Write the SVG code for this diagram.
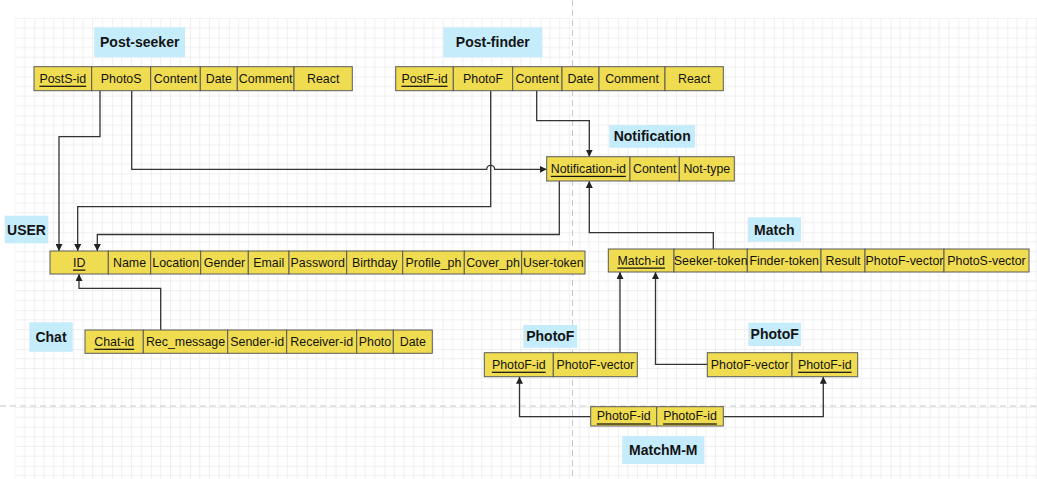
<svg xmlns="http://www.w3.org/2000/svg" width="1037" height="479" viewBox="0 0 1037 479">
<style>
.cell{fill:#f0dc50;stroke:#5a5a5a;stroke-width:1}
.lbl{fill:#c4ecfb}
.t{font-family:"Liberation Sans",Arial,sans-serif;font-size:12.4px;fill:#141414;text-anchor:middle;dominant-baseline:central}
.k{text-decoration:underline}
.h{font-family:"Liberation Sans",Arial,sans-serif;font-size:14px;font-weight:bold;fill:#141414;text-anchor:middle;dominant-baseline:central}
.c{fill:none;stroke:#333;stroke-width:1.3}
</style>
<defs>
<pattern id="grid" patternUnits="userSpaceOnUse" x="34.3" y="37.7" width="38.92" height="38.92">
<path d="M9.73 0V38.92M19.46 0V38.92M29.19 0V38.92M0 9.73H38.92M0 19.46H38.92M0 29.19H38.92" stroke="#efefef" stroke-width="1"/>
<path d="M0 0V38.92M0 0H38.92" stroke="#e1e1e1" stroke-width="1"/>
</pattern>
<marker id="a" viewBox="0 0 10 10" refX="10" refY="5" markerWidth="7" markerHeight="7" orient="auto" markerUnits="userSpaceOnUse">
<path d="M0 0L10 5L0 10Z" fill="#222"/>
</marker>
</defs>
<rect width="1037" height="479" fill="#fff"/>
<rect x="14.7" y="18" width="1023" height="462" fill="url(#grid)"/>
<path d="M572.5 0V479M0 406H1037" stroke="#c8c8c8" stroke-width="1" stroke-dasharray="6,4" fill="none"/>

<g id="connectors">
<path class="c" d="M100 90.7V136.7H59V251" marker-end="url(#a)"/>
<path class="c" d="M131.7 90.7V169.3H486.7A4 4 0 0 1 494.7 169.3H546.7" marker-end="url(#a)"/>
<path class="c" d="M490.7 90.7V206.7H77.7V251" marker-end="url(#a)"/>
<path class="c" d="M536.7 90.7V120.7H589.3V156.7" marker-end="url(#a)"/>
<path class="c" d="M559.3 181V234.5H97.3V251" marker-end="url(#a)"/>
<path class="c" d="M713.3 249V232.7H589.3V181" marker-end="url(#a)"/>
<path class="c" d="M160.7 330V288.3H79V274" marker-end="url(#a)"/>
<path class="c" d="M620 352.7V272" marker-end="url(#a)"/>
<path class="c" d="M707.3 364.3H655.5V272" marker-end="url(#a)"/>
<path class="c" d="M590.7 416.7H519.5V376.7" marker-end="url(#a)"/>
<path class="c" d="M723.3 416.7H823.3V376.7" marker-end="url(#a)"/>
</g>

<g id="post-seeker">
<rect class="lbl" x="94.3" y="27.3" width="90.7" height="30"/>
<text class="h" x="139.7" y="42.3">Post-seeker</text>
<rect class="cell" x="34" y="66.7" width="57.7" height="24"/>
<rect class="cell" x="91.7" y="66.7" width="59" height="24"/>
<rect class="cell" x="150.7" y="66.7" width="49.6" height="24"/>
<rect class="cell" x="200.3" y="66.7" width="37" height="24"/>
<rect class="cell" x="237.3" y="66.7" width="56.7" height="24"/>
<rect class="cell" x="294" y="66.7" width="58.3" height="24"/>
<text class="t k" x="62.8" y="78.7">PostS-id</text>
<text class="t" x="121.2" y="78.7">PhotoS</text>
<text class="t" x="175.5" y="78.7">Content</text>
<text class="t" x="218.8" y="78.7">Date</text>
<text class="t" x="265.7" y="78.7">Comment</text>
<text class="t" x="323.2" y="78.7">React</text>
</g>

<g id="post-finder">
<rect class="lbl" x="443.3" y="27.3" width="99" height="30"/>
<text class="h" x="492.8" y="42.3">Post-finder</text>
<rect class="cell" x="395.7" y="66.7" width="57.6" height="24"/>
<rect class="cell" x="453.3" y="66.7" width="59.4" height="24"/>
<rect class="cell" x="512.7" y="66.7" width="49.3" height="24"/>
<rect class="cell" x="562" y="66.7" width="37" height="24"/>
<rect class="cell" x="599" y="66.7" width="66" height="24"/>
<rect class="cell" x="665" y="66.7" width="58.3" height="24"/>
<text class="t k" x="424.5" y="78.7">PostF-id</text>
<text class="t" x="483" y="78.7">PhotoF</text>
<text class="t" x="537.3" y="78.7">Content</text>
<text class="t" x="580.5" y="78.7">Date</text>
<text class="t" x="632" y="78.7">Comment</text>
<text class="t" x="694.2" y="78.7">React</text>
</g>

<g id="notification">
<rect class="lbl" x="609.3" y="125" width="85.7" height="22.7"/>
<text class="h" x="652.2" y="136.3">Notification</text>
<rect class="cell" x="546.7" y="156.7" width="83.3" height="24.3"/>
<rect class="cell" x="630" y="156.7" width="49.3" height="24.3"/>
<rect class="cell" x="679.3" y="156.7" width="55" height="24.3"/>
<text class="t k" x="588.3" y="168.8">Notification-id</text>
<text class="t" x="654.7" y="168.8">Content</text>
<text class="t" x="706.8" y="168.8">Not-type</text>
</g>

<g id="user">
<rect class="lbl" x="4.7" y="215.7" width="43.6" height="27.6"/>
<text class="h" x="26.5" y="229.5">USER</text>
<rect class="cell" x="50" y="251" width="58.3" height="23"/>
<rect class="cell" x="108.3" y="251" width="42.4" height="23"/>
<rect class="cell" x="150.7" y="251" width="50" height="23"/>
<rect class="cell" x="200.7" y="251" width="47.6" height="23"/>
<rect class="cell" x="248.3" y="251" width="40.7" height="23"/>
<rect class="cell" x="289" y="251" width="57.7" height="23"/>
<rect class="cell" x="346.7" y="251" width="56" height="23"/>
<rect class="cell" x="402.7" y="251" width="61.6" height="23"/>
<rect class="cell" x="464.3" y="251" width="57.4" height="23"/>
<rect class="cell" x="521.7" y="251" width="63.3" height="23"/>
<text class="t k" x="79.2" y="262.5">ID</text>
<text class="t" x="129.5" y="262.5">Name</text>
<text class="t" x="175.7" y="262.5">Location</text>
<text class="t" x="224.5" y="262.5">Gender</text>
<text class="t" x="268.7" y="262.5">Email</text>
<text class="t" x="317.8" y="262.5">Password</text>
<text class="t" x="374.7" y="262.5">Birthday</text>
<text class="t" x="433.5" y="262.5">Profile_ph</text>
<text class="t" x="493" y="262.5">Cover_ph</text>
<text class="t" x="553.3" y="262.5">User-token</text>
</g>

<g id="chat">
<rect class="lbl" x="29.3" y="322.3" width="43.4" height="29.4"/>
<text class="h" x="51" y="336.5">Chat</text>
<rect class="cell" x="85" y="330" width="58.3" height="23.3"/>
<rect class="cell" x="143.3" y="330" width="84.4" height="23.3"/>
<rect class="cell" x="227.7" y="330" width="59" height="23.3"/>
<rect class="cell" x="286.7" y="330" width="70" height="23.3"/>
<rect class="cell" x="356.7" y="330" width="36.6" height="23.3"/>
<rect class="cell" x="393.3" y="330" width="39" height="23.3"/>
<text class="t k" x="114.2" y="341.7">Chat-id</text>
<text class="t" x="185.5" y="341.7">Rec_message</text>
<text class="t" x="257.2" y="341.7">Sender-id</text>
<text class="t" x="321.7" y="341.7">Receiver-id</text>
<text class="t" x="375" y="341.7">Photo</text>
<text class="t" x="412.8" y="341.7">Date</text>
</g>

<g id="match">
<rect class="lbl" x="747.7" y="217.3" width="53.3" height="24.4"/>
<text class="h" x="774.3" y="229.5">Match</text>
<rect class="cell" x="608.3" y="249" width="65.7" height="23"/>
<rect class="cell" x="674" y="249" width="73.3" height="23"/>
<rect class="cell" x="747.3" y="249" width="73.7" height="23"/>
<rect class="cell" x="821" y="249" width="44" height="23"/>
<rect class="cell" x="865" y="249" width="79" height="23"/>
<rect class="cell" x="944" y="249" width="85" height="23"/>
<text class="t k" x="641.2" y="260.5">Match-id</text>
<text class="t" x="710.7" y="260.5">Seeker-token</text>
<text class="t" x="784.2" y="260.5">Finder-token</text>
<text class="t" x="843" y="260.5">Result</text>
<text class="t" x="904.5" y="260.5">PhotoF-vector</text>
<text class="t" x="986.5" y="260.5">PhotoS-vector</text>
</g>

<g id="photof-left">
<rect class="lbl" x="523.3" y="325" width="54" height="22.7"/>
<text class="h" x="550.3" y="336.3">PhotoF</text>
<rect class="cell" x="484.3" y="352.7" width="69" height="24"/>
<rect class="cell" x="553.3" y="352.7" width="84" height="24"/>
<text class="t k" x="518.8" y="364.7">PhotoF-id</text>
<text class="t" x="595.3" y="364.7">PhotoF-vector</text>
</g>

<g id="photof-right">
<rect class="lbl" x="748.3" y="322.7" width="52.7" height="23.3"/>
<text class="h" x="774.7" y="334.3">PhotoF</text>
<rect class="cell" x="707.3" y="352.7" width="84.7" height="24"/>
<rect class="cell" x="792" y="352.7" width="65.7" height="24"/>
<text class="t" x="749.7" y="364.7">PhotoF-vector</text>
<text class="t k" x="824.8" y="364.7">PhotoF-id</text>
</g>

<g id="matchm-m">
<rect class="cell" x="590.7" y="406.7" width="66" height="19.3"/>
<rect class="cell" x="656.7" y="406.7" width="66.6" height="19.3"/>
<text class="t k" x="623.7" y="416.4">PhotoF-id</text>
<text class="t k" x="690" y="416.4">PhotoF-id</text>
<rect class="lbl" x="622.3" y="436" width="82" height="28"/>
<text class="h" x="663.3" y="450">MatchM-M</text>
</g>
</svg>
